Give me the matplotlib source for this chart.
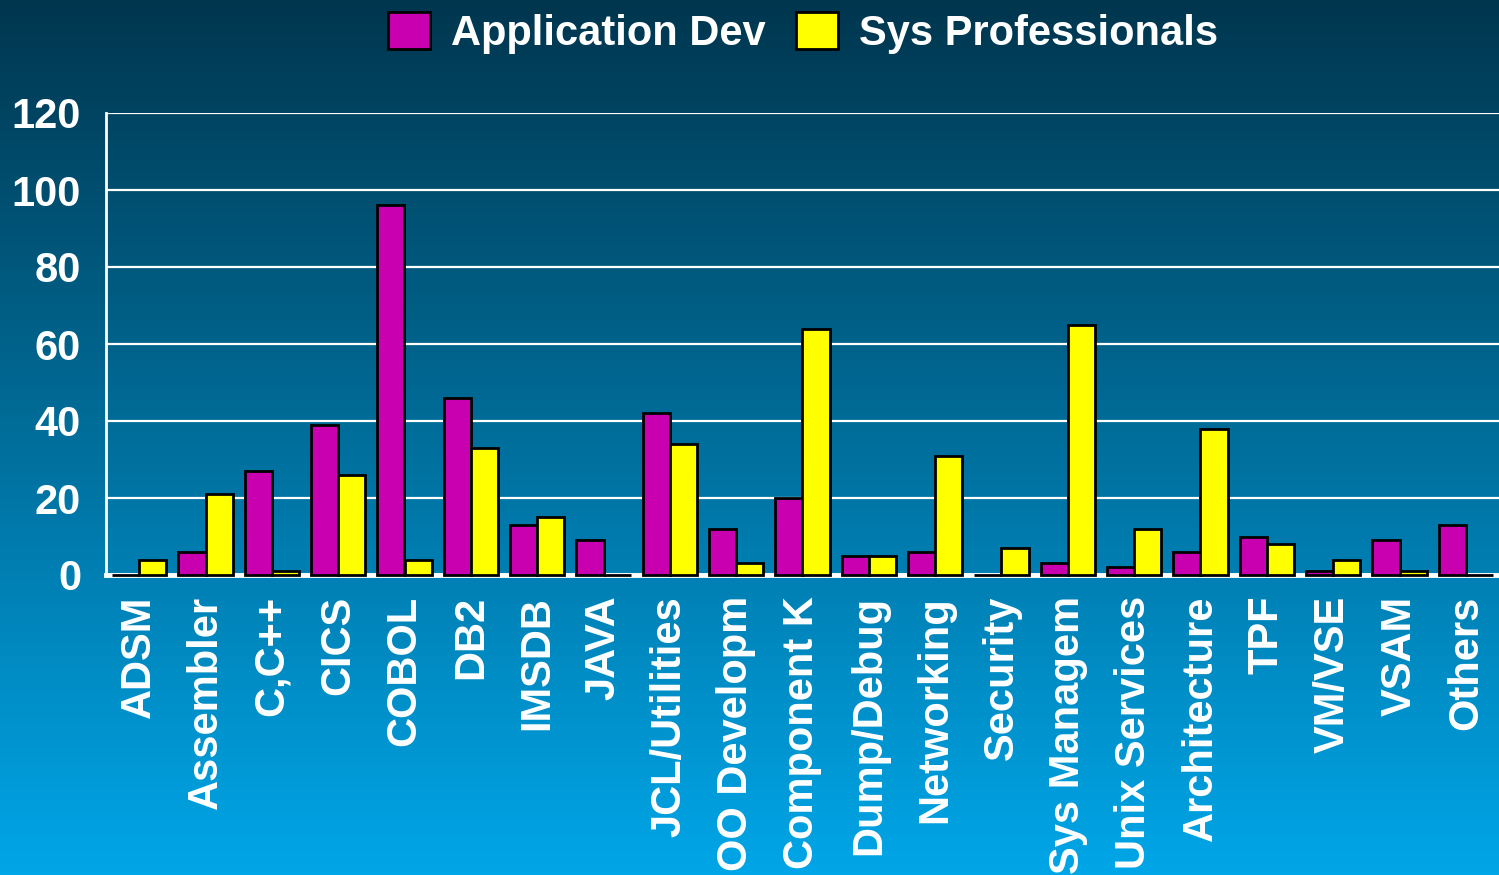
import matplotlib
matplotlib.use("Agg")
import matplotlib.pyplot as plt
import numpy as np

plt.rcParams['font.family'] = ['Liberation Sans', 'DejaVu Sans']
plt.rcParams['font.weight'] = 'bold'

categories = ["ADSM", "Assembler", "C,C++", "CICS", "COBOL", "DB2", "IMSDB", "JAVA",
              "JCL/Utilities", "OO Developm", "Component K", "Dump/Debug", "Networking",
              "Security", "Sys Managem", "Unix Services", "Architecture", "TPF",
              "VM/VSE", "VSAM", "Others"]
app_dev = [0, 6, 27, 39, 96, 46, 13, 9, 42, 12, 20, 5, 6, 0, 3, 2, 6, 10, 1, 9, 13]
sys_prof = [4, 21, 1, 26, 4, 33, 15, 0, 34, 3, 64, 5, 31, 7, 65, 12, 38, 8, 4, 1, 0]
yticks = [0, 20, 40, 60, 80, 100, 120]

fig = plt.figure(figsize=(14.99, 8.75), dpi=100)

# gradient background
bg = fig.add_axes([0, 0, 1, 1], zorder=-10)
top = np.array([0, 54, 78]) / 255
bot = np.array([0, 166, 232]) / 255
t = np.linspace(0, 1, 256)[:, None]
grad = top[None, :] * (1 - t) + bot[None, :] * t
bg.imshow(grad[:, None, :], aspect='auto', extent=[0, 1, 0, 1])
bg.axis('off')

ax = fig.add_axes([106 / 1499, 1 - 575 / 875, 1 - 106 / 1499, (575 - 113) / 875])
ax.patch.set_alpha(0)

x = np.arange(len(categories))
w = 0.41
ax.bar(x - w / 2, app_dev, w, color='#C800AF', edgecolor='black', linewidth=2,
       label='Application Dev', zorder=3, clip_on=False)
ax.bar(x + w / 2, sys_prof, w, color='#FFFF00', edgecolor='black', linewidth=2,
       label='Sys Professionals', zorder=3, clip_on=False)

ax.set_xlim(-0.5, len(categories) - 0.5)
ax.set_ylim(0, 120)
ax.set_yticks(yticks)
ax.set_yticklabels([str(v) for v in yticks])
ax.yaxis.grid(True, color='white', linewidth=1.6)
ax.set_axisbelow(True)

for s in ['top', 'right']:
    ax.spines[s].set_visible(False)
ax.spines['left'].set_color('white')
ax.spines['left'].set_linewidth(2)
ax.spines['bottom'].set_color('white')
ax.spines['bottom'].set_linewidth(3.5)

ax.set_xticks(x)
ax.set_xticklabels(categories, rotation=90, va='top', ha='center')
ax.tick_params(axis='both', length=0, colors='white', labelsize=30)
ax.tick_params(axis='x', pad=15)
ax.tick_params(axis='y', pad=18)
for lbl in ax.get_xticklabels() + ax.get_yticklabels():
    lbl.set_fontweight('bold')

fig.legend(loc='center', bbox_to_anchor=(803 / 1499, 1 - 33 / 875), ncol=2,
           frameon=False, handlelength=1.0, handleheight=1.0,
           handletextpad=0.5, columnspacing=0.75, labelcolor='white',
           prop={'weight': 'bold', 'size': 30})

fig.savefig("out.png", dpi=100)
